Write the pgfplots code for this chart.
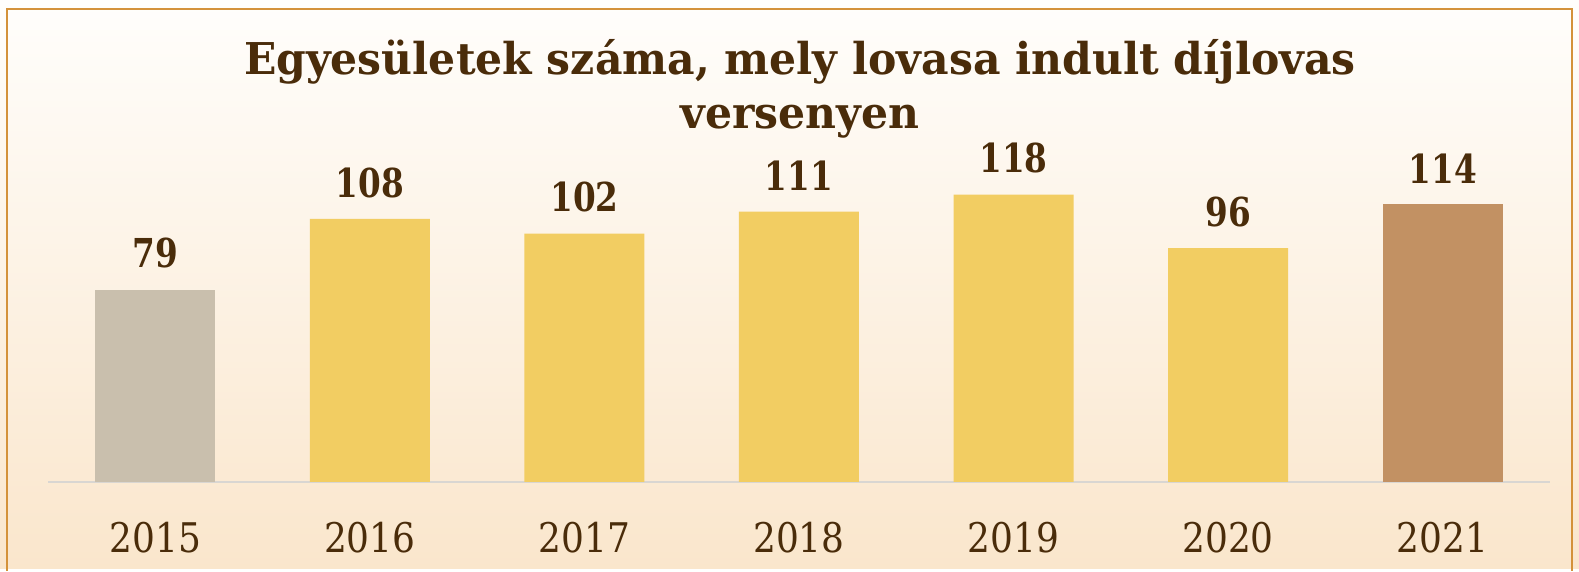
\documentclass[border=0pt]{standalone}
\usepackage{pgfplots}
\pgfplotsset{compat=1.18}
\usepackage{fontspec}
\setmainfont{DejaVu Serif}
\newfontfamily\titlefont[FakeStretch=0.97]{DejaVu Serif}
\newfontfamily\tickfont[FakeStretch=0.88]{DejaVu Serif}
\newfontfamily\valfont[FakeStretch=0.82]{DejaVu Serif}
\definecolor{txt}{HTML}{4A2C0A}
\definecolor{bgtop}{HTML}{FFFEFC}
\definecolor{bgbot}{HTML}{FAE6CC}
\definecolor{border}{HTML}{D4923A}
\definecolor{axline}{HTML}{D9D6D2}
\definecolor{cgray}{HTML}{C9BFAD}
\definecolor{cyellow}{HTML}{F2CD62}
\definecolor{cbrown}{HTML}{C29163}
\begin{document}
\begin{tikzpicture}[x=1bp,y=1bp]
\shade[top color=bgtop, bottom color=bgbot] (0,0) rectangle (1579,569);
\draw[border, line width=1.5bp] (7,-2) -- (7,560) -- (1572,560) -- (1572,-2);
\node[anchor=base, text=txt, font=\titlefont\bfseries\fontsize{44}{50}\selectfont] at (800,494) {Egyesületek száma, mely lovasa indult díjlovas};
\node[anchor=base, text=txt, font=\titlefont\bfseries\fontsize{44}{50}\selectfont] at (800,440) {versenyen};
\begin{axis}[
  at={(48bp,87bp)}, anchor=south west,
  width=1502bp, height=316.6bp, scale only axis,
  xmin=-0.5, xmax=6.5, ymin=0, ymax=130,
  axis x line*=bottom, hide y axis,
  x axis line style={draw=axline, line width=1.5bp},
  xtick={0,1,2,3,4,5,6},
  xticklabels={2015,2016,2017,2018,2019,2020,2021},
  major tick length=0pt,
  xticklabel style={anchor=north, yshift=-40bp, inner sep=0pt, text=txt, font=\tickfont\fontsize{41}{46}\selectfont},
  ytick=\empty,
  ybar, bar width=120bp, bar shift=0pt,
  /pgf/number format/assume math mode=true,
  nodes near coords={\pgfmathprintnumber[assume math mode=true]{\pgfplotspointmeta}},
  nodes near coords style={anchor=south, inner sep=0pt, yshift=21bp, text=txt, font=\valfont\bfseries\fontsize{40}{46}\selectfont},
  every axis plot/.append style={draw=none},
  clip=false,
]
\addplot[fill=cgray] coordinates {(0,79)};
\addplot[fill=cyellow] coordinates {(1,108) (2,102) (3,111) (4,118) (5,96)};
\addplot[fill=cbrown] coordinates {(6,114)};
\end{axis}
\end{tikzpicture}
\end{document}
